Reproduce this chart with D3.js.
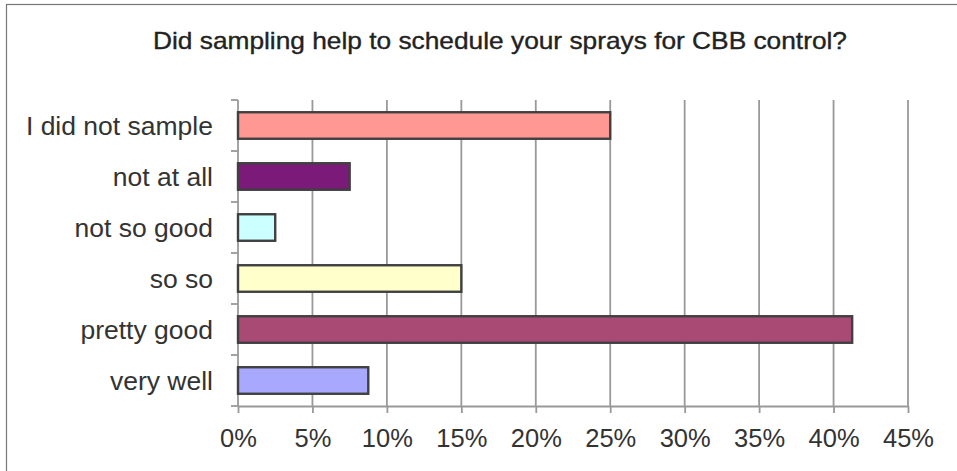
<!DOCTYPE html>
<html>
<head>
<meta charset="utf-8">
<script src="https://cdn.jsdelivr.net/npm/d3@7"></script>
<style>
  html, body { margin: 0; padding: 0; background: #fff; overflow: hidden; }
  svg { display: block; }
</style>
</head>
<body>
<div id="chart"></div>
<script>
// chart values
const categories = ["I did not sample", "not at all", "not so good", "so so", "pretty good", "very well"];
const values = [0.25, 0.075, 0.025, 0.15, 0.4125, 0.0875];
const colors = ["#ff9793", "#7b1a78", "#ccffff", "#ffffcc", "#a94a74", "#a8a8ff"];
const xTicks = [0, 0.05, 0.10, 0.15, 0.20, 0.25, 0.30, 0.35, 0.40, 0.45];
const title = "Did sampling help to schedule your sprays for CBB control?";

const W = 957, H = 471;
const plotLeft = 238, plotRight = 908, plotTop = 100, plotBottom = 406;

const svg = d3.select("#chart")
  .append("svg")
  .attr("width", W)
  .attr("height", H);

// outer frame (runs off the page at right and bottom)
svg.append("rect")
  .attr("x", 6.5).attr("y", 4.5)
  .attr("width", W + 20).attr("height", H + 20)
  .attr("fill", "#fff")
  .attr("stroke", "#777")
  .attr("stroke-width", 1.2);

svg.append("text")
  .attr("x", 500).attr("y", 49)
  .attr("text-anchor", "middle")
  .attr("font-family", "Liberation Sans, Arial, sans-serif")
  .attr("font-size", 24)
  .attr("textLength", 694)
  .attr("lengthAdjust", "spacingAndGlyphs")
  .attr("fill", "#222")
  .attr("stroke", "#222")
  .attr("stroke-width", 0.35)
  .text(title);

const x = d3.scaleLinear()
  .domain([0, 0.45])
  .range([plotLeft, plotRight]);

const y = d3.scaleBand()
  .domain(categories)
  .range([plotTop, plotBottom])
  .paddingInner(0.48)
  .paddingOuter(0.24);

// vertical gridlines
svg.append("g")
  .selectAll("line")
  .data(xTicks.slice(1))
  .enter()
  .append("line")
  .attr("x1", d => x(d)).attr("x2", d => x(d))
  .attr("y1", plotTop).attr("y2", plotBottom)
  .attr("stroke", "#999")
  .attr("stroke-width", 1.8);

// bottom axis
const xAxis = svg.append("g")
  .attr("transform", "translate(0," + plotBottom + ")")
  .call(d3.axisBottom(x).tickValues(xTicks).tickFormat(d3.format(".0%")).tickSize(7).tickSizeOuter(0).tickPadding(16));
xAxis.select(".domain").attr("stroke", "#999").attr("stroke-width", 1.8);
xAxis.selectAll(".tick line").attr("stroke", "#999").attr("stroke-width", 1.8);
xAxis.selectAll(".tick text")
  .attr("font-family", "Liberation Sans, Arial, sans-serif")
  .attr("font-size", 25.5)
  .attr("fill", "#333");

// left axis: ticks sit between categories
const yAxis = svg.append("g")
  .attr("transform", "translate(" + plotLeft + ",0)");
yAxis.append("line")
  .attr("x1", 0).attr("x2", 0)
  .attr("y1", plotTop).attr("y2", plotBottom)
  .attr("stroke", "#999")
  .attr("stroke-width", 1.8);
const bounds = categories.map(c => y(c) - y.step() * y.paddingInner() / 2).concat([plotBottom]);
yAxis.selectAll(".cat-tick")
  .data(bounds)
  .enter()
  .append("line")
  .attr("x1", -7).attr("x2", 0)
  .attr("y1", d => d).attr("y2", d => d)
  .attr("stroke", "#999")
  .attr("stroke-width", 1.8);
yAxis.selectAll(".cat-label")
  .data(categories)
  .enter()
  .append("text")
  .attr("x", -25)
  .attr("y", d => y(d) + y.bandwidth() / 2)
  .attr("dy", "0.36em")
  .attr("text-anchor", "end")
  .attr("font-family", "Liberation Sans, Arial, sans-serif")
  .attr("font-size", 26.5)
  .attr("fill", "#333")
  .text(d => d);

// bars
svg.append("g")
  .selectAll("rect")
  .data(categories)
  .enter()
  .append("rect")
  .attr("x", x(0))
  .attr("y", d => y(d))
  .attr("width", (d, i) => x(values[i]) - x(0))
  .attr("height", y.bandwidth())
  .attr("fill", (d, i) => colors[i])
  .attr("stroke", "#404040")
  .attr("stroke-width", 2.4);
</script>
</body>
</html>
